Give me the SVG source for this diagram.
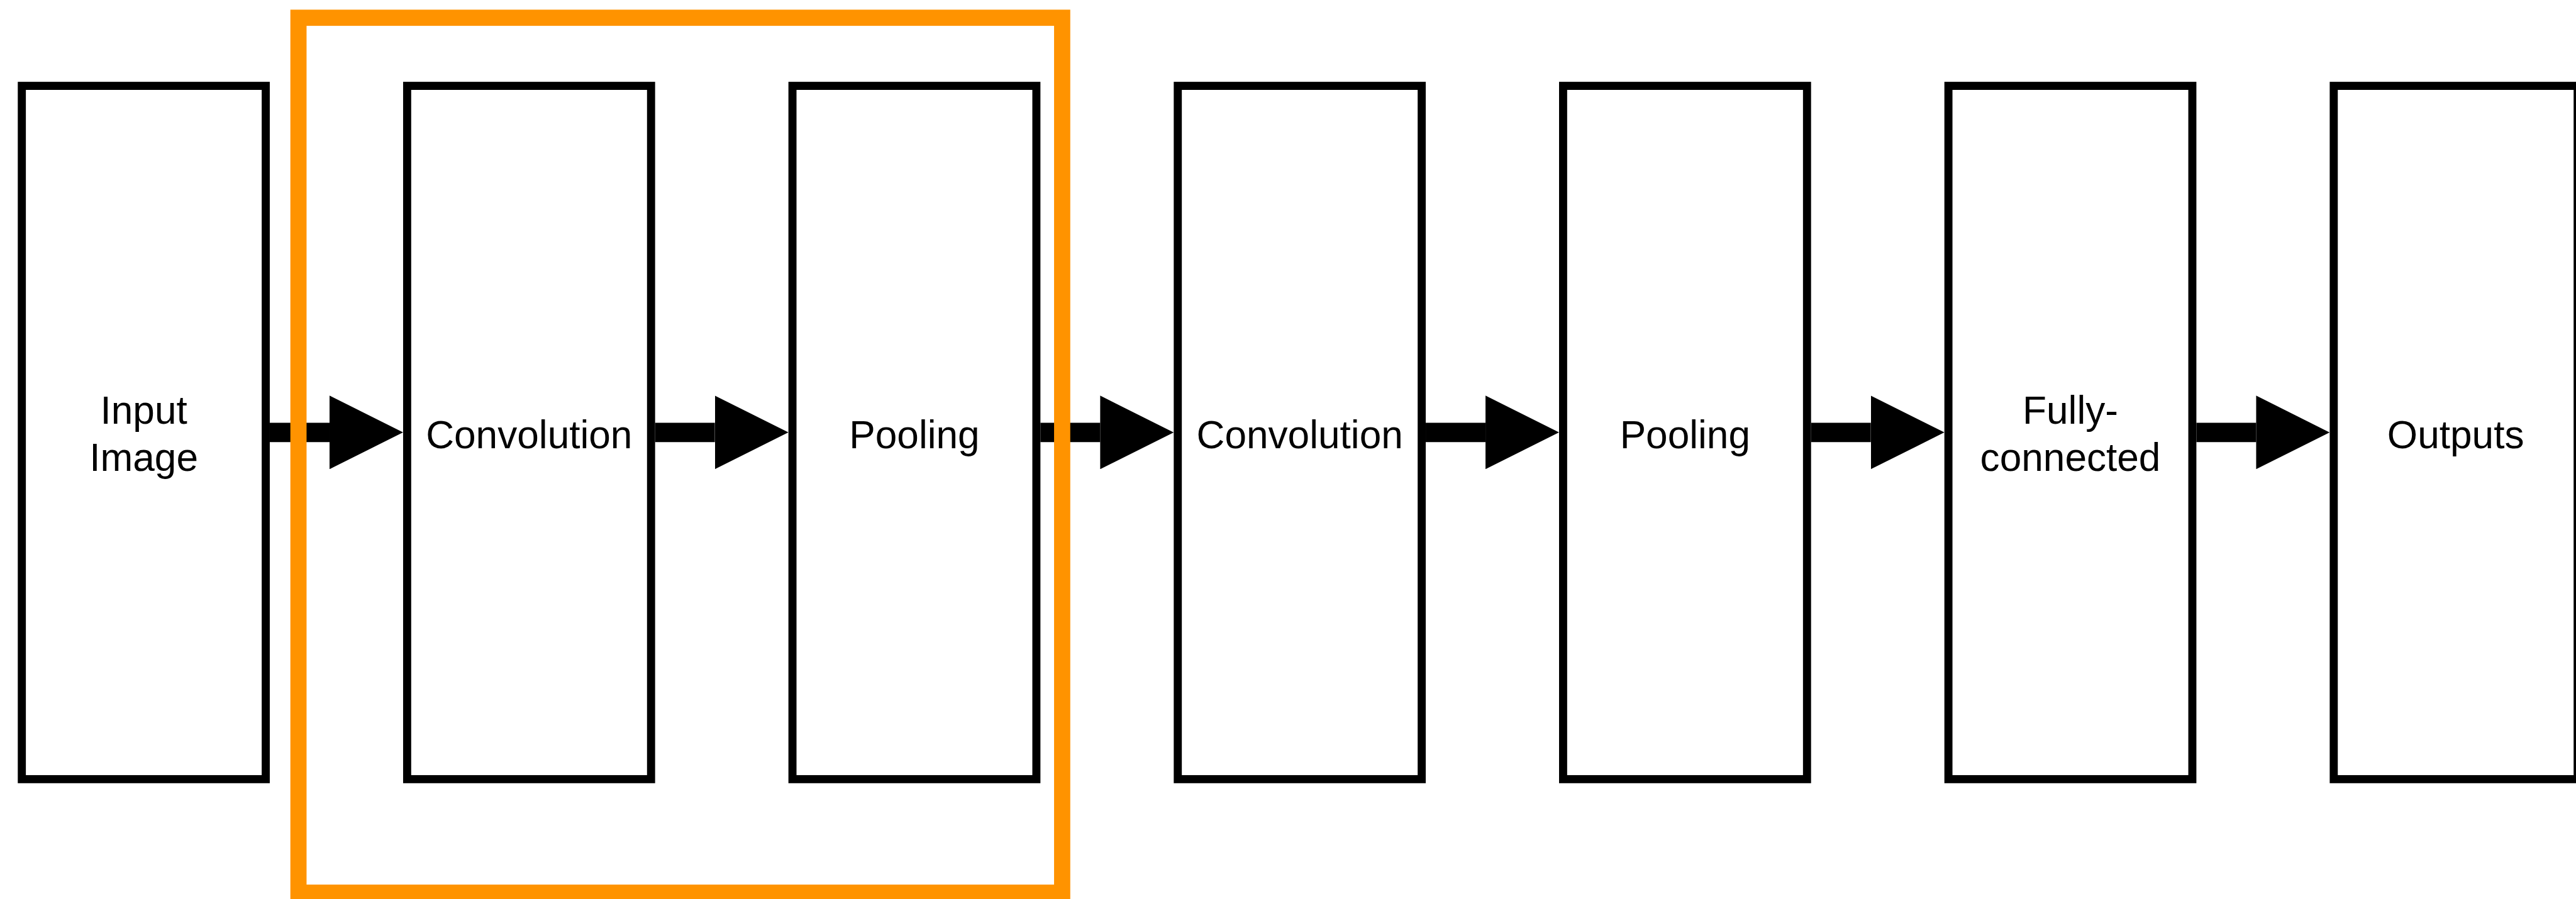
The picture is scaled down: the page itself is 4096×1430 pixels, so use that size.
<svg xmlns="http://www.w3.org/2000/svg" width="4096" height="1430" viewBox="0 0 4096 1430">
  <style>
    .node rect { fill: #ffffff; stroke: #000000; stroke-width: 13.33; }
    .node text { font-family: "Liberation Sans", Arial, Helvetica, sans-serif; font-size: 64.5px; fill: #000000; text-anchor: middle; }
    .conn line { stroke: #000000; stroke-width: 31.8; marker-end: url(#head); }
    .group { fill: none; stroke: #FF9300; stroke-width: 26.7; }
  </style>
  <defs>
    <marker id="head" markerUnits="userSpaceOnUse" viewBox="0 0 121.3 121.3" markerWidth="121.3" markerHeight="121.3" refX="0" refY="60.65" orient="auto">
      <path d="M0,0 L121.3,60.65 L0,121.3 Z" fill="#000000"/>
    </marker>
  </defs>
  <rect width="4096" height="1430" fill="#ffffff"/>
  <g transform="scale(0.96399)">
    <g id="node-input" class="node">
      <rect x="36" y="141.67" width="402.33" height="1144"/>
      <text x="237.15" y="699.3">Input</text>
      <text x="237.15" y="776.7">Image</text>
    </g>
    <g id="node-conv1" class="node">
      <rect x="671.57" y="141.67" width="402.33" height="1144"/>
      <text x="872.72" y="739.3">Convolution</text>
    </g>
    <g id="node-pool1" class="node">
      <rect x="1307.14" y="141.67" width="402.33" height="1144"/>
      <text x="1508.29" y="739.3">Pooling</text>
    </g>
    <g id="node-conv2" class="node">
      <rect x="1942.71" y="141.67" width="402.33" height="1144"/>
      <text x="2143.86" y="739.3">Convolution</text>
    </g>
    <g id="node-pool2" class="node">
      <rect x="2578.28" y="141.67" width="402.33" height="1144"/>
      <text x="2779.43" y="739.3">Pooling</text>
    </g>
    <g id="node-fc" class="node">
      <rect x="3213.85" y="141.67" width="402.33" height="1144"/>
      <text x="3415" y="699.3">Fully-</text>
      <text x="3415" y="776.7">connected</text>
    </g>
    <g id="node-outputs" class="node">
      <rect x="3849.42" y="141.67" width="402.33" height="1144"/>
      <text x="4050.57" y="739.3">Outputs</text>
    </g>
    <g id="connectors" class="conn">
      <line x1="445" y1="713.5" x2="543.57" y2="713.5"/>
      <line x1="1080.57" y1="713.5" x2="1179.14" y2="713.5"/>
      <line x1="1716.14" y1="713.5" x2="1814.71" y2="713.5"/>
      <line x1="2351.71" y1="713.5" x2="2450.28" y2="713.5"/>
      <line x1="2987.28" y1="713.5" x2="3085.85" y2="713.5"/>
      <line x1="3622.85" y1="713.5" x2="3721.42" y2="713.5"/>
    </g>
    <g id="group-highlight">
      <rect class="group" x="492.3" y="29.3" width="1259.7" height="1443.7"/>
    </g>
  </g>
</svg>
